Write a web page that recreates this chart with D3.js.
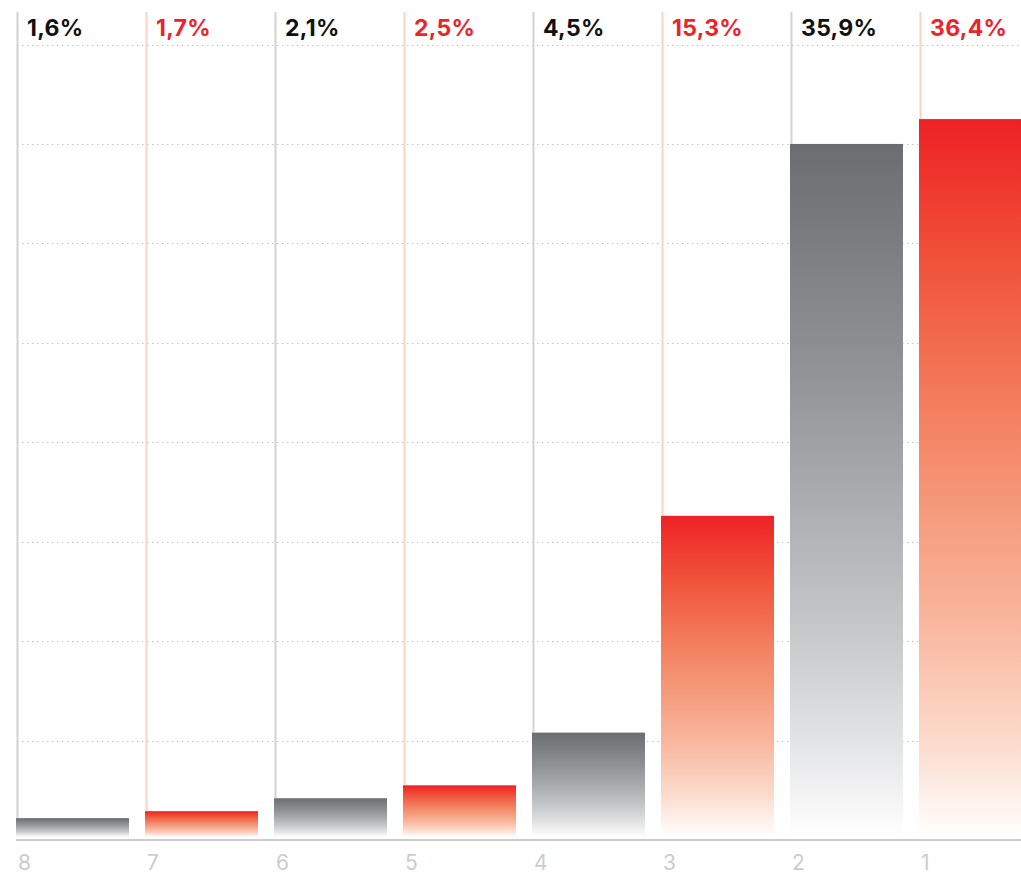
<!DOCTYPE html>
<html>
<head>
<meta charset="utf-8">
<script src="https://cdn.jsdelivr.net/npm/d3@7"></script>
<style>
  html, body { margin: 0; padding: 0; background: #fff; overflow: hidden; }
  svg { display: block; }
</style>
</head>
<body>
<svg id="chart" width="1021" height="875"></svg>
<script>
// ---- data ----
const categories = ["8", "7", "6", "5", "4", "3", "2", "1"];
const valueLabels = ["1,6%", "1,7%", "2,1%", "2,5%", "4,5%", "15,3%", "35,9%", "36,4%"];
const barValues = [1.1, 1.45, 2.1, 2.75, 5.4, 16.3, 35.0, 36.25];
const groups = ["grey", "red", "grey", "red", "grey", "red", "grey", "red"];
const gridTicks = [5, 10, 15, 20, 25, 30, 35, 40];

const rows = categories.map((c, i) => ({ cat: c, label: valueLabels[i], value: barValues[i], group: groups[i] }));

const W = 1021, H = 875;
const svg = d3.select("#chart");

const x = d3.scaleBand().domain(categories).range([16, 1032]).paddingInner(0.124).paddingOuter(0);
const y = d3.scaleLinear().domain([0, 40]).range([840, 44.5]);

const defs = svg.append("defs");
const greyGrad = defs.append("linearGradient").attr("id", "g-grey").attr("x1", 0).attr("y1", 0).attr("x2", 0).attr("y2", 1);
[[0, "#6c6d70"], [0.3, "#8e8f92"], [0.5, "#a9aaad"], [0.7, "#c6c7c9"], [0.86, "#e2e3e4"], [1, "#ffffff"]]
  .forEach(([o, c]) => greyGrad.append("stop").attr("offset", o).attr("stop-color", c));
const redGrad = defs.append("linearGradient").attr("id", "g-red").attr("x1", 0).attr("y1", 0).attr("x2", 0).attr("y2", 1);
[[0, "#ee2125"], [0.2, "#f0533a"], [0.4, "#f37e5e"], [0.55, "#f59b7d"], [0.7, "#f8b69d"], [0.86, "#fbd9ca"], [1, "#ffffff"]]
  .forEach(([o, c]) => redGrad.append("stop").attr("offset", o).attr("stop-color", c));

const colors = {
  grey: { line: "#d2d2d2", text: "#111111", fill: "url(#g-grey)" },
  red:  { line: "#fcd3c3", text: "#ee2229", fill: "url(#g-red)" }
};

// gridlines
svg.append("g").selectAll("line").data(gridTicks).join("line")
  .attr("x1", 17).attr("x2", W)
  .attr("y1", d => Math.round(y(d)) + 0.5).attr("y2", d => Math.round(y(d)) + 0.5)
  .attr("stroke", "#c4c4c4").attr("stroke-width", 1)
  .attr("stroke-dasharray", "1.5,3.5");

// vertical marker lines
svg.append("g").selectAll("line").data(rows).join("line")
  .attr("x1", d => x(d.cat) + 1.5).attr("x2", d => x(d.cat) + 1.5)
  .attr("y1", 12).attr("y2", d => y(d.value))
  .attr("stroke", d => colors[d.group].line).attr("stroke-width", 2);

// bars
svg.append("g").selectAll("rect").data(rows).join("rect")
  .attr("x", d => x(d.cat))
  .attr("width", x.bandwidth())
  .attr("y", d => y(d.value))
  .attr("height", d => y(0) - 3 - y(d.value))
  .attr("fill", d => colors[d.group].fill);

// value labels
svg.append("g").selectAll("text").data(rows).join("text")
  .attr("x", d => x(d.cat) + 11)
  .attr("y", 36)
  .attr("font-family", "Inter, 'Noto Sans', sans-serif")
  .attr("font-weight", 700)
  .attr("font-size", 23)
  .attr("letter-spacing", 0.3)
  .attr("fill", d => colors[d.group].text)
  .text(d => d.label);

// x axis
const axis = svg.append("g").attr("transform", `translate(0,${y(0)})`)
  .call(d3.axisBottom(x).tickSize(0).tickPadding(0));
axis.select(".domain").attr("stroke", "#cccccc").attr("stroke-width", 2).attr("d", `M16,0H${W}`);
axis.selectAll(".tick text")
  .attr("x", -x.bandwidth() / 2 + 2)
  .attr("y", 30)
  .attr("dy", 0)
  .attr("text-anchor", "start")
  .attr("font-family", "Inter, 'Noto Sans', sans-serif")
  .attr("font-weight", 400)
  .attr("font-size", 21)
  .attr("fill", "#cccccc");
</script>
</body>
</html>
